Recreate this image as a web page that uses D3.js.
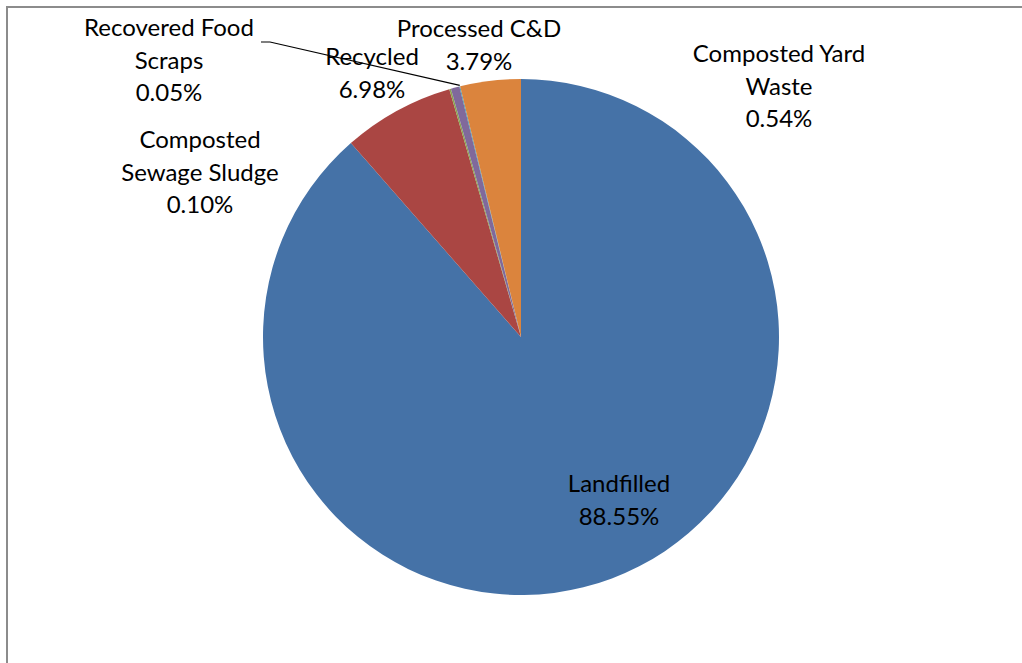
<!DOCTYPE html>
<html>
<head>
<meta charset="utf-8">
<script src="https://cdn.jsdelivr.net/npm/d3@7"></script>
<style>
  body { margin: 0; background: #fff; }
  text { font-family: Lato, "Open Sans", sans-serif; fill: #000; }
</style>
</head>
<body>
<div id="chart"></div>
<script>
// slice data, clockwise from 12 o'clock
const categories = ['Landfilled', 'Recycled', 'Composted Sewage Sludge', 'Composted Yard Waste', 'Recovered Food Scraps', 'Processed C&D'];
const shares = [88.55, 6.98, 0.10, 0.54, 0.05, 3.79];
const colors = ['#4572A7', '#AA4643', '#89A54E', '#80699B', '#3D96AE', '#DB843D'];
const labelLines = [
    ['Landfilled', '88.55%'],
    ['Recycled', '6.98%'],
    ['Composted', 'Sewage Sludge', '0.10%'],
    ['Composted Yard', 'Waste', '0.54%'],
    ['Recovered Food', 'Scraps', '0.05%'],
    ['Processed C&D', '3.79%']
];
// label anchor (center x, first baseline y) as placed in the original
const labelPos = [[619, 492], [372, 65], [200, 148], [779, 62], [169, 36], [479, 37]];

const width = 1022, height = 663;
const cx = 521, cy = 337, radius = 258;

const svg = d3.select('#chart')
    .append('svg')
    .attr('width', width)
    .attr('height', height);

// chart frame (runs off the right and bottom edge)
svg.append('rect')
    .attr('x', 7)
    .attr('y', 7)
    .attr('width', width + 20)
    .attr('height', height + 20)
    .attr('fill', 'none')
    .attr('stroke', '#8c8c8c')
    .attr('stroke-width', 2);

const pie = d3.pie().sort(null).value(d => d);
const arcs = pie(shares);
const arc = d3.arc().innerRadius(0).outerRadius(radius);

const g = svg.append('g')
    .attr('transform', `translate(${cx},${cy})`);

g.selectAll('.slice')
    .data(arcs)
    .enter()
    .append('path')
    .attr('class', 'slice')
    .attr('d', arc)
    .attr('fill', (d, i) => colors[i]);

// leader line for the food scraps label
const foodIdx = 4;
const edge = d3.arc().innerRadius(radius).outerRadius(radius).centroid(arcs[foodIdx]);
svg.append('polyline')
    .attr('points', [[261, 42], [270, 42], [cx + edge[0], cy + edge[1] - 1]].map(p => p.join(',')).join(' '))
    .attr('fill', 'none')
    .attr('stroke', '#000')
    .attr('stroke-width', 1.2);

const labels = svg.selectAll('.label')
    .data(labelLines)
    .enter()
    .append('text')
    .attr('class', 'label')
    .attr('text-anchor', 'middle')
    .style('font-size', '24px');

labels.each(function (lines, i) {
    const t = d3.select(this);
    lines.forEach((s, j) => {
        t.append('tspan')
            .attr('x', labelPos[i][0])
            .attr('y', labelPos[i][1] + j * 32.5)
            .text(s);
    });
});
</script>
</body>
</html>
